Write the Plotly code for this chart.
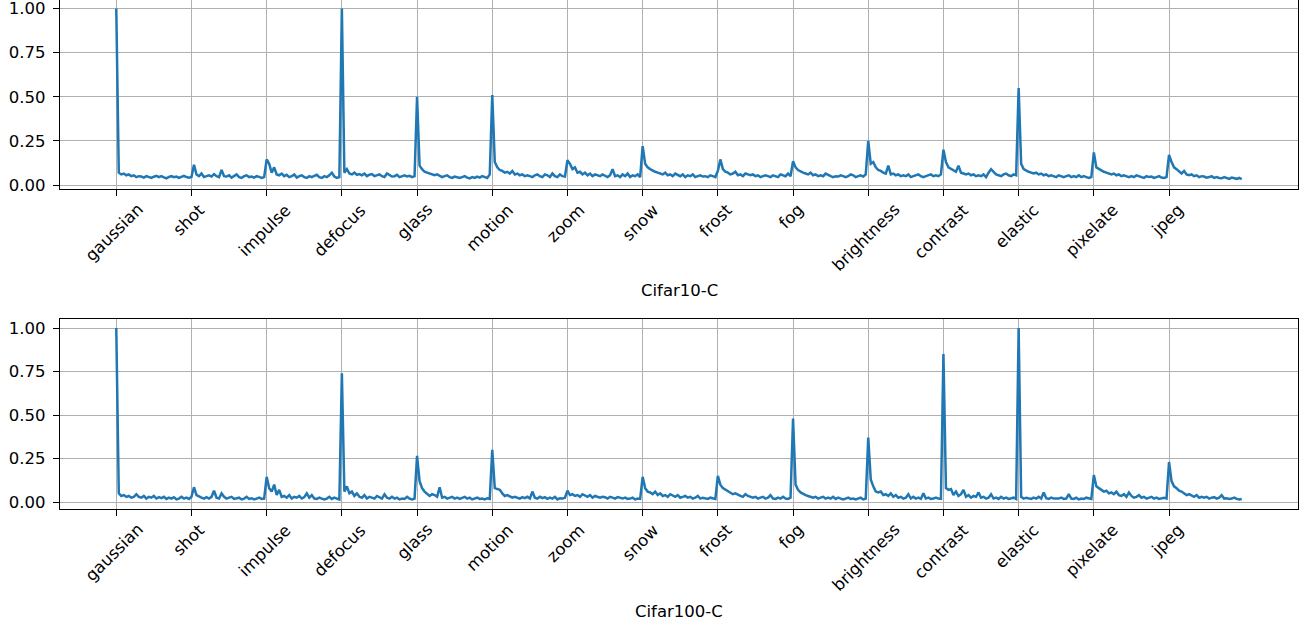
import plotly.graph_objects as go
from plotly.subplots import make_subplots

corruptions = ["gaussian", "shot", "impulse", "defocus", "glass", "motion", "zoom",
               "snow", "frost", "fog", "brightness", "contrast", "elastic", "pixelate", "jpeg"]
points_per_corruption = 30

cifar10_c = [
    # gaussian
    1.0, 0.07, 0.06, 0.065, 0.055, 0.06, 0.05, 0.055, 0.045, 0.05, 0.048, 0.042, 0.05, 0.045, 0.04,
    0.047, 0.052, 0.045, 0.05, 0.043, 0.038, 0.046, 0.05, 0.044, 0.048, 0.04, 0.047, 0.052, 0.045, 0.042,
    # shot
    0.045, 0.115, 0.06, 0.05, 0.065, 0.045, 0.05, 0.055, 0.048, 0.062, 0.05, 0.045, 0.085, 0.05, 0.048,
    0.055, 0.042, 0.05, 0.06, 0.045, 0.04, 0.05, 0.055, 0.045, 0.048, 0.042, 0.05, 0.046, 0.04, 0.045,
    # impulse
    0.145, 0.12, 0.07, 0.1, 0.06, 0.055, 0.065, 0.05, 0.058, 0.045, 0.05, 0.06, 0.042, 0.05, 0.055,
    0.045, 0.04, 0.05, 0.045, 0.052, 0.058, 0.045, 0.04, 0.05, 0.045, 0.055, 0.07, 0.048, 0.04, 0.045,
    # defocus
    1.0, 0.07, 0.09, 0.065, 0.06, 0.07, 0.058, 0.062, 0.055, 0.065, 0.05, 0.058, 0.062, 0.05, 0.055,
    0.06, 0.05, 0.045, 0.065, 0.055, 0.048, 0.05, 0.058, 0.045, 0.05, 0.055, 0.048, 0.052, 0.045, 0.05,
    # glass
    0.5, 0.11, 0.09, 0.075, 0.07, 0.065, 0.06, 0.055, 0.06, 0.05, 0.045, 0.05, 0.055, 0.045, 0.04,
    0.048, 0.045, 0.04, 0.045, 0.05, 0.042, 0.038, 0.045, 0.04, 0.048, 0.042, 0.05, 0.045, 0.04, 0.06,
    # motion
    0.51, 0.13, 0.1, 0.085, 0.08, 0.07, 0.075, 0.065, 0.08, 0.06, 0.065, 0.055, 0.06, 0.05, 0.055,
    0.05, 0.045, 0.055, 0.06, 0.05, 0.045, 0.06, 0.055, 0.045, 0.065, 0.05, 0.045, 0.06, 0.05, 0.048,
    # zoom
    0.14, 0.12, 0.09, 0.1, 0.07, 0.075, 0.06, 0.07, 0.055, 0.065, 0.05, 0.06, 0.055, 0.05, 0.06,
    0.05, 0.045, 0.055, 0.09, 0.05, 0.055, 0.045, 0.06, 0.05, 0.065, 0.045, 0.055, 0.05, 0.06, 0.045,
    # snow
    0.22, 0.12, 0.1, 0.09, 0.08, 0.075, 0.07, 0.065, 0.06, 0.07, 0.055, 0.06, 0.05, 0.065, 0.055,
    0.05, 0.06, 0.045, 0.055, 0.05, 0.06, 0.045, 0.05, 0.055, 0.048, 0.05, 0.045, 0.055, 0.05, 0.045,
    # frost
    0.08, 0.145, 0.09, 0.075, 0.07, 0.06, 0.065, 0.075, 0.055, 0.06, 0.05, 0.065, 0.06, 0.055, 0.06,
    0.05, 0.055, 0.045, 0.05, 0.055, 0.05, 0.045, 0.055, 0.05, 0.045, 0.06, 0.055, 0.05, 0.065, 0.05,
    # fog
    0.135, 0.1, 0.085, 0.075, 0.07, 0.065, 0.06, 0.07, 0.055, 0.06, 0.05, 0.055, 0.05, 0.065, 0.055,
    0.05, 0.045, 0.05, 0.048, 0.055, 0.05, 0.045, 0.05, 0.06, 0.055, 0.045, 0.05, 0.055, 0.048, 0.06,
    # brightness
    0.25, 0.12, 0.13, 0.1, 0.085, 0.08, 0.07, 0.065, 0.11, 0.06, 0.065, 0.055, 0.06, 0.05, 0.055,
    0.05, 0.06, 0.045, 0.05, 0.055, 0.06, 0.05, 0.045, 0.05, 0.055, 0.06, 0.05, 0.055, 0.05, 0.06,
    # contrast
    0.2, 0.13, 0.1, 0.09, 0.08, 0.075, 0.11, 0.07, 0.065, 0.06, 0.065, 0.055, 0.06, 0.05, 0.055,
    0.05, 0.06, 0.045, 0.07, 0.09, 0.075, 0.06, 0.055, 0.05, 0.06, 0.065, 0.055, 0.05, 0.06, 0.055,
    # elastic
    0.55, 0.12, 0.09, 0.08, 0.075, 0.07, 0.065, 0.07, 0.06, 0.065, 0.055, 0.06, 0.05, 0.055, 0.05,
    0.045, 0.055, 0.05, 0.045, 0.05, 0.055, 0.045, 0.05, 0.045, 0.055, 0.045, 0.05, 0.045, 0.04, 0.045,
    # pixelate
    0.185, 0.1, 0.09, 0.08, 0.075, 0.07, 0.065, 0.06, 0.065, 0.055, 0.06, 0.05, 0.055, 0.05, 0.045,
    0.05, 0.045, 0.055, 0.05, 0.045, 0.04, 0.05, 0.045, 0.048, 0.04, 0.045, 0.05, 0.042, 0.04, 0.045,
    # jpeg
    0.17, 0.13, 0.1, 0.09, 0.075, 0.065, 0.08, 0.06, 0.055, 0.06, 0.05, 0.055, 0.045, 0.05, 0.048,
    0.042, 0.045, 0.05, 0.04, 0.045, 0.04, 0.038, 0.045, 0.04, 0.035, 0.042, 0.038, 0.035, 0.04, 0.033,
]

cifar100_c = [
    # gaussian
    1.0, 0.05, 0.035, 0.04, 0.03, 0.035, 0.025, 0.03, 0.045, 0.03, 0.025, 0.035, 0.02, 0.03, 0.025,
    0.035, 0.02, 0.028, 0.022, 0.03, 0.018, 0.025, 0.02, 0.028, 0.015, 0.02, 0.03, 0.02, 0.025, 0.018,
    # shot
    0.03, 0.085, 0.04, 0.03, 0.025, 0.02, 0.028, 0.02, 0.03, 0.065, 0.025, 0.02, 0.05, 0.03, 0.02,
    0.025, 0.03, 0.018, 0.02, 0.025, 0.015, 0.02, 0.03, 0.018, 0.022, 0.015, 0.02, 0.025, 0.018, 0.02,
    # impulse
    0.145, 0.08, 0.06, 0.1, 0.04, 0.07, 0.03, 0.035, 0.025, 0.04, 0.02, 0.03, 0.025, 0.035, 0.02,
    0.028, 0.05, 0.025, 0.04, 0.02, 0.018, 0.025, 0.02, 0.015, 0.02, 0.03, 0.018, 0.025, 0.02, 0.015,
    # defocus
    0.74, 0.06, 0.09, 0.05, 0.06, 0.035, 0.05, 0.03, 0.025, 0.04, 0.02, 0.03, 0.025, 0.02, 0.035,
    0.025, 0.02, 0.045, 0.025, 0.02, 0.03, 0.02, 0.025, 0.015, 0.02, 0.018, 0.03, 0.02, 0.015, 0.02,
    # glass
    0.265, 0.12, 0.08, 0.06, 0.05, 0.035, 0.045, 0.04, 0.03, 0.085, 0.025, 0.03, 0.02, 0.025, 0.03,
    0.02, 0.025, 0.018, 0.022, 0.03, 0.02, 0.025, 0.015, 0.02, 0.025, 0.018, 0.02, 0.015, 0.022, 0.018,
    # motion
    0.3, 0.08, 0.075, 0.07, 0.05, 0.035, 0.04, 0.03, 0.025, 0.03, 0.025, 0.02, 0.028, 0.022, 0.03,
    0.02, 0.06, 0.025, 0.02, 0.03, 0.022, 0.028, 0.018, 0.025, 0.02, 0.03, 0.015, 0.022, 0.02, 0.025,
    # zoom
    0.065, 0.04, 0.045, 0.035, 0.04, 0.03, 0.045, 0.035, 0.03, 0.04, 0.025, 0.035, 0.03, 0.025, 0.03,
    0.028, 0.02, 0.03, 0.025, 0.02, 0.028, 0.022, 0.02, 0.025, 0.018, 0.02, 0.025, 0.015, 0.02, 0.018,
    # snow
    0.145, 0.08, 0.06, 0.055, 0.045, 0.06, 0.04, 0.05, 0.035, 0.04, 0.03, 0.045, 0.035, 0.03, 0.04,
    0.025, 0.03, 0.035, 0.025, 0.03, 0.02, 0.025, 0.035, 0.02, 0.025, 0.02, 0.018, 0.025, 0.02, 0.018,
    # frost
    0.15, 0.1, 0.08, 0.07, 0.06, 0.05, 0.045, 0.05, 0.04, 0.035, 0.03, 0.045, 0.035, 0.03, 0.025,
    0.03, 0.02, 0.025, 0.03, 0.02, 0.025, 0.04, 0.02, 0.018, 0.025, 0.02, 0.03, 0.02, 0.018, 0.025,
    # fog
    0.48, 0.1, 0.07, 0.055, 0.045, 0.04, 0.035, 0.03, 0.025, 0.03, 0.02, 0.025, 0.03, 0.02, 0.025,
    0.02, 0.03, 0.018, 0.025, 0.02, 0.015, 0.02, 0.025, 0.018, 0.02, 0.015, 0.02, 0.025, 0.015, 0.02,
    # brightness
    0.37, 0.13, 0.09, 0.06, 0.055, 0.06, 0.04, 0.045, 0.035, 0.05, 0.03, 0.04, 0.025, 0.03, 0.02,
    0.025, 0.045, 0.02, 0.03, 0.02, 0.025, 0.018, 0.05, 0.02, 0.025, 0.018, 0.02, 0.025, 0.02, 0.018,
    # contrast
    0.85, 0.08, 0.07, 0.075, 0.04, 0.06, 0.035, 0.045, 0.07, 0.03, 0.04, 0.025, 0.035, 0.03, 0.055,
    0.025, 0.03, 0.02, 0.025, 0.045, 0.02, 0.025, 0.018, 0.03, 0.02, 0.025, 0.018, 0.02, 0.025, 0.018,
    # elastic
    1.0, 0.03, 0.02, 0.025, 0.02, 0.018, 0.025, 0.02, 0.03, 0.02, 0.055, 0.022, 0.018, 0.025, 0.02,
    0.018, 0.02, 0.025, 0.018, 0.02, 0.045, 0.02, 0.018, 0.025, 0.015, 0.02, 0.018, 0.025, 0.02, 0.018,
    # pixelate
    0.155, 0.09, 0.08, 0.07, 0.06, 0.065, 0.05, 0.055, 0.045, 0.06, 0.04, 0.035, 0.045, 0.03, 0.055,
    0.035, 0.025, 0.03, 0.04, 0.025, 0.03, 0.02, 0.025, 0.03, 0.02, 0.025, 0.018, 0.02, 0.025, 0.02,
    # jpeg
    0.23, 0.12, 0.09, 0.08, 0.065, 0.06, 0.05, 0.04, 0.045, 0.035, 0.03, 0.04, 0.025, 0.03, 0.025,
    0.03, 0.02, 0.025, 0.028, 0.02, 0.025, 0.04, 0.02, 0.022, 0.018, 0.02, 0.025, 0.018, 0.015, 0.018,
]

dataset_names = ["Cifar10-C", "Cifar100-C"]
y_ticks = [0.0, 0.25, 0.5, 0.75, 1.0]

FONT = "DejaVu Sans"
FS = 16.5
n_total = len(cifar10_c)
x_idx = list(range(n_total))
tick_pos = [i * points_per_corruption for i in range(len(corruptions))]
x_pad = 0.05 * (n_total - 1)

fig = make_subplots(rows=2, cols=1, vertical_spacing=0.0)

for r, vals in enumerate([cifar10_c, cifar100_c], start=1):
    fig.add_trace(go.Scatter(x=x_idx, y=vals, mode="lines",
                             line=dict(color="#1f77b4", width=2.5),
                             showlegend=False, hoverinfo="skip"), row=r, col=1)

axis_common = dict(showline=True, mirror=True, linecolor="black", linewidth=1.3,
                   ticks="outside", ticklen=6, tickwidth=1.3, tickcolor="black",
                   showgrid=True, gridcolor="#b0b0b0", gridwidth=1.3, zeroline=False,
                   automargin=False,
                   tickfont=dict(family=FONT, size=FS, color="black"))

fig.update_xaxes(**axis_common, range=[-x_pad, n_total - 1 + x_pad],
                 tickvals=tick_pos, showticklabels=False)
fig.update_yaxes(**axis_common, tickvals=y_ticks, ticktext=[f"{v:.2f}" for v in y_ticks],
                 ticklabelstandoff=4, ticklabeloverflow="allow")
fig.update_yaxes(range=[-0.0226, 1.0487], domain=[0.6287, 1.0], row=1, col=1)
fig.update_yaxes(range=[-0.04, 1.0495], domain=[0.0, 0.3725], row=2, col=1)

annotations = []
for r, (xa, ya) in enumerate([("x", "y"), ("x2", "y2")]):
    for name, pos in zip(corruptions, tick_pos):
        annotations.append(dict(x=pos, y=0, xref=xa, yref=f"{ya} domain",
                                text=name, textangle=-45, showarrow=False,
                                xanchor="center", yanchor="top", yshift=-10, xshift=-2,
                                borderpad=0,
                                font=dict(family=FONT, size=FS, color="black")))
    annotations.append(dict(x=0.5, y=0, xref=f"{xa} domain", yref=f"{ya} domain",
                            text=dataset_names[r], showarrow=False,
                            xanchor="center", yanchor="middle", yshift=-102,
                            font=dict(family=FONT, size=FS, color="black")))

fig.update_layout(width=1302, height=623, margin=dict(l=60, r=4, t=0, b=114),
                  paper_bgcolor="white", plot_bgcolor="white",
                  annotations=annotations, font=dict(family=FONT, size=FS, color="black"))

fig.write_html("out.html", config={"displayModeBar": False},
               post_script="document.body.style.margin='0px';")
